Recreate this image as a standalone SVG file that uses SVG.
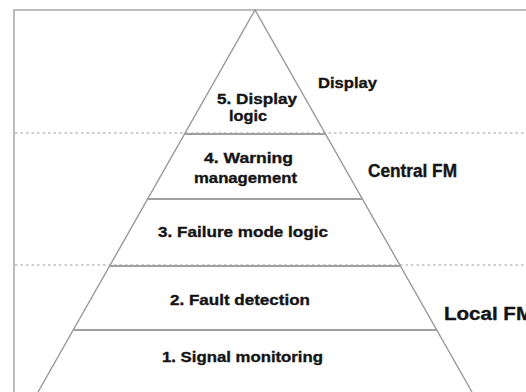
<svg xmlns="http://www.w3.org/2000/svg" width="526" height="392" viewBox="0 0 526 392">
<style>
.frame{fill:none;stroke:#bdbdbd;stroke-width:2}
.dash{stroke:#bdbdbd;stroke-width:1.5;stroke-dasharray:2.5 3}
.edge{fill:none;stroke:#9a9a9a;stroke-width:1.4}
.sep{stroke:#a0a0a0;stroke-width:2}
text{font-family:"Liberation Sans",Arial,sans-serif;font-weight:bold;fill:#141414;stroke:#141414;stroke-width:0.35}
.lv{font-size:15.5px}
.zone{font-size:17.5px}
</style>
<rect width="526" height="392" fill="#ffffff"/>
<g id="frame">
<path class="frame" d="M14,392 V10 H526"/>
<line class="dash" x1="15" y1="133" x2="526" y2="133"/>
<line class="dash" x1="15" y1="265" x2="526" y2="265"/>
</g>
<g id="pyramid">
<path class="edge" d="M38,392 L255,10 L472,392"/>
</g>
<g id="connectors">
<line class="sep" x1="185" y1="134" x2="325" y2="134"/>
<line class="sep" x1="148" y1="199" x2="362" y2="199"/>
<line class="sep" x1="110" y1="266" x2="400" y2="266"/>
<line class="sep" x1="73" y1="330" x2="437" y2="330"/>
</g>
<g id="layer5">
<text class="lv" x="217" y="104" textLength="80" lengthAdjust="spacingAndGlyphs">5. Display</text>
<text class="lv" x="229" y="121" textLength="38" lengthAdjust="spacingAndGlyphs">logic</text>
</g>
<g id="layer4">
<text class="lv" x="204" y="163" textLength="89" lengthAdjust="spacingAndGlyphs">4. Warning</text>
<text class="lv" x="194" y="183" textLength="103" lengthAdjust="spacingAndGlyphs">management</text>
</g>
<g id="layer3">
<text class="lv" x="158" y="237" textLength="170" lengthAdjust="spacingAndGlyphs">3. Failure mode logic</text>
</g>
<g id="layer2">
<text class="lv" x="170" y="305" textLength="140" lengthAdjust="spacingAndGlyphs">2. Fault detection</text>
</g>
<g id="layer1">
<text class="lv" x="162" y="362" textLength="161" lengthAdjust="spacingAndGlyphs">1. Signal monitoring</text>
</g>
<g id="zone-display">
<text class="lv" x="318" y="88" textLength="59" lengthAdjust="spacingAndGlyphs">Display</text>
</g>
<g id="zone-central">
<text class="zone" x="368" y="177" textLength="89" lengthAdjust="spacingAndGlyphs">Central FM</text>
</g>
<g id="zone-local">
<text class="zone" x="444" y="320" textLength="89" lengthAdjust="spacingAndGlyphs">Local FM</text>
</g>
</svg>
